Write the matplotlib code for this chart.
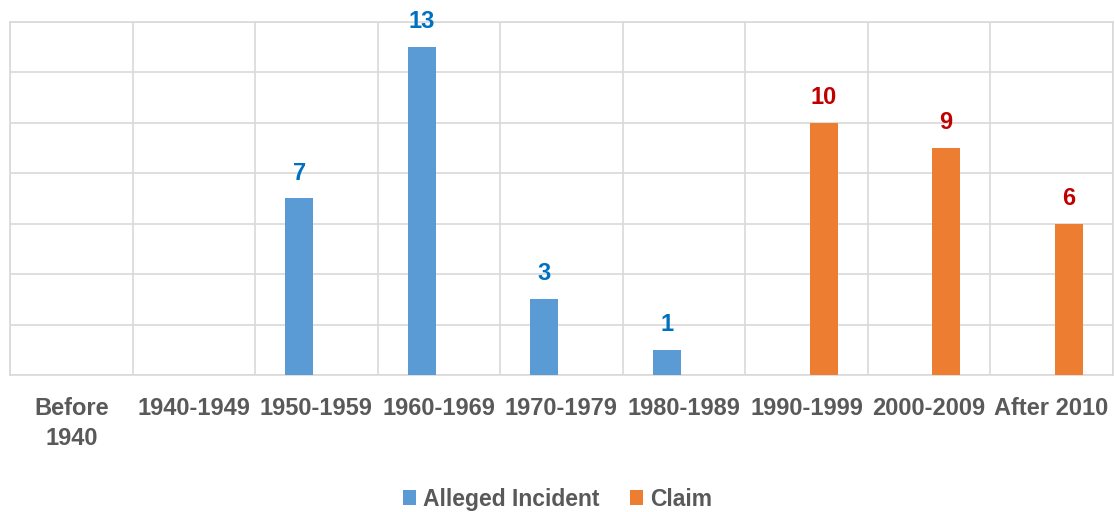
import numpy as np
import matplotlib.pyplot as plt

categories = ["Before\n1940", "1940-1949", "1950-1959", "1960-1969", "1970-1979",
              "1980-1989", "1990-1999", "2000-2009", "After 2010"]
alleged = [0, 0, 7, 13, 3, 1, 0, 0, 0]
claim = [0, 0, 0, 0, 0, 0, 10, 9, 6]

plt.rcParams['font.family'] = ['Liberation Sans', 'DejaVu Sans']

fig = plt.figure(figsize=(11.15, 5.12), dpi=100)
ax = fig.add_axes([0.009, 0.2676, 0.989, 0.6895])

x = np.arange(len(categories))
w = 0.23
off = 0.14
b1 = ax.bar(x - off, alleged, w, color='#5B9BD5', label='Alleged Incident', zorder=3)
b2 = ax.bar(x + off, claim, w, color='#ED7D31', label='Claim', zorder=3)

# labels only for non-zero bars
for rect, v in zip(b1, alleged):
    if v:
        ax.annotate(str(v), (rect.get_x() + rect.get_width() / 2, v), xytext=(0, 10),
                    textcoords='offset points', ha='center', va='bottom',
                    fontsize=17, fontweight='bold', color='#0070C0')
for rect, v in zip(b2, claim):
    if v:
        ax.annotate(str(v), (rect.get_x() + rect.get_width() / 2, v), xytext=(0, 10),
                    textcoords='offset points', ha='center', va='bottom',
                    fontsize=17, fontweight='bold', color='#C00000')

ax.set_xlim(-0.5, len(categories) - 0.5)
ax.set_ylim(0, 14)
ax.set_yticks(np.arange(0, 15, 2))
ax.set_yticklabels([])
ax.set_xticks(x)
ax.set_xticklabels(categories, fontsize=17, fontweight='bold', color='#595959', linespacing=1.4)
ax.set_xticks(np.arange(-0.5, len(categories), 1), minor=True)
ax.tick_params(axis='both', which='both', length=0)
ax.tick_params(axis='x', which='major', pad=16)
ax.grid(axis='y', color='#D9D9D9', linewidth=1.2, zorder=0)
ax.grid(axis='x', which='minor', color='#D9D9D9', linewidth=1.2, zorder=0)
ax.grid(axis='x', which='major', visible=False)
for s in ax.spines.values():
    s.set_color('#D9D9D9')
    s.set_linewidth(1.2)

fig.legend(handles=[b1, b2], loc='lower center', bbox_to_anchor=(0.5, -0.038), ncol=2,
           frameon=False, handlelength=0.6, handleheight=0.6, handletextpad=0.3,
           columnspacing=1.3, prop={'size': 16.5, 'weight': 'bold'}, labelcolor='#595959')

fig.savefig('out.png', dpi=100)
